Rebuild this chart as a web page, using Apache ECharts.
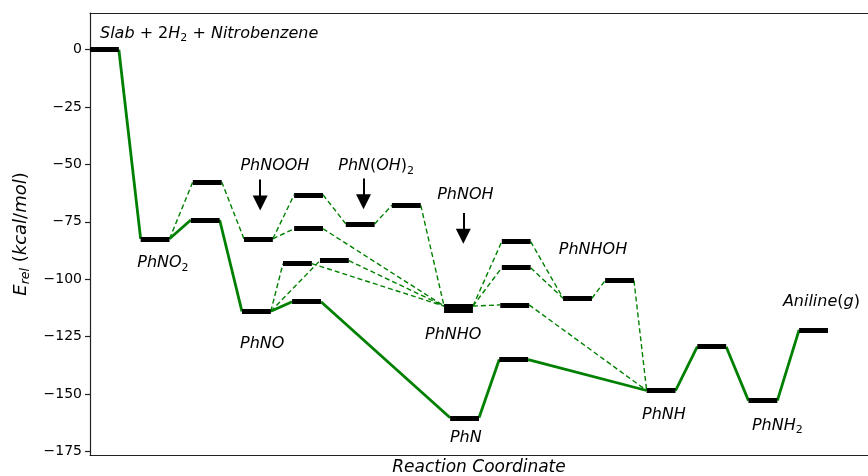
<!DOCTYPE html>
<html>
<head>
<meta charset="utf-8">
<script src="https://cdn.jsdelivr.net/npm/echarts@6/dist/echarts.min.js"></script>
<style>
  html, body { margin: 0; padding: 0; background: #fff; }
  #chart { width: 868px; height: 476px; }
</style>
</head>
<body>
<div id="chart"></div>
<script>
// Energy levels of the nitrobenzene hydrogenation network (kcal/mol, relative to slab + 2H2 + nitrobenzene)
const stateKeys = ['slab', 'PhNO2', 'TS1a', 'TS1b', 'PhNOOH', 'PhNO', 'TS2a', 'TS2b', 'TS2c', 'TS2d', 'TS2e',
  'PhNOH2', 'TS3', 'PhNHO', 'PhNOH', 'TS4a', 'TS4b', 'TS4c', 'PhN', 'TS5', 'PhNHOH', 'TS6', 'PhNH', 'TS7', 'PhNH2', 'Aniline'];
// start of each level along the reaction coordinate
const stateX = [0.00, 1.00, 2.03, 1.99, 3.04, 3.00, 4.03, 4.03, 3.81, 4.54, 3.99,
  5.05, 5.96, 6.99, 6.99, 8.13, 8.13, 8.10, 7.11, 8.08, 9.34, 10.17, 10.99, 11.99, 13.00, 14.00];
const stateE = [0.0, -82.4, -57.6, -74.2, -82.4, -114.0, -63.2, -78.0, -93.2, -91.9, -109.8,
  -75.9, -67.8, -113.7, -111.7, -83.6, -95.0, -111.2, -160.4, -135.0, -108.3, -100.6, -148.5, -129.4, -152.9, -122.1];
const levelWidth = 0.57;

// Most favourable pathway (solid) and alternative pathways (dashed)
const solidPath = [['slab', 'PhNO2'], ['PhNO2', 'TS1b'], ['TS1b', 'PhNO'], ['PhNO', 'TS2e'], ['TS2e', 'PhN'],
  ['PhN', 'TS5'], ['TS5', 'PhNH'], ['PhNH', 'TS7'], ['TS7', 'PhNH2'], ['PhNH2', 'Aniline']];
const dashedPath = [['PhNO2', 'TS1a'], ['TS1a', 'PhNOOH'], ['PhNOOH', 'TS2a'], ['PhNOOH', 'TS2b'], ['TS2a', 'PhNOH2'],
  ['PhNOH2', 'TS3'], ['TS3', 'PhNOH'], ['TS2b', 'PhNOH'], ['PhNO', 'TS2c'], ['PhNO', 'TS2d'], ['TS2c', 'PhNOH'],
  ['TS2d', 'PhNOH'], ['PhNOH', 'TS4a'], ['PhNOH', 'TS4b'], ['PhNOH', 'TS4c'], ['TS4a', 'PhNHOH'], ['TS4b', 'PhNHOH'],
  ['PhNHOH', 'TS6'], ['TS6', 'PhNH'], ['TS4c', 'PhNH']];

// Species labels: text, anchor on the reaction coordinate, anchor energy
const labelTexts = [
  '{it|Slab}{up| + 2}{it|H}{sub|2}{up| + }{it|Nitrobenzene}',
  '{it|PhNO}{sub|2}', '{it|PhNOOH}', '{it|PhN}{up|(}{it|OH}{up|)}{sub|2}', '{it|PhNOH}', '{it|PhNHOH}',
  '{it|Aniline}{up|(}{it|g}{up|)}', '{it|PhNO}', '{it|PhNHO}', '{it|PhN}', '{it|PhNH}', '{it|PhNH}{sub|2}'];
const labelX = [0.197, 1.44, 3.65, 5.65, 7.41, 9.93, 14.44, 3.40, 7.17, 7.42, 11.33, 13.57];
const labelE = [6.9, -93.0, -50.8, -50.8, -63.2, -87.3, -109.9, -128.0, -124.2, -169.0, -159.2, -164.0];

// Pointer arrows: coordinate, tail energy, head energy
const arrowX = [3.36, 5.40, 7.37];
const arrowFrom = [-56.5, -56.1, -71.2];
const arrowTo = [-66.8, -66.3, -81.3];

const yTicks = [0, -25, -50, -75, -100, -125, -150, -175];

const idx = k => stateKeys.indexOf(k);
const link = ([a, b]) => ({
  coords: [[stateX[idx(a)] + levelWidth, stateE[idx(a)]], [stateX[idx(b)], stateE[idx(b)]]]
});

const FONT = 'DejaVu Sans';
const richStyles = {
  it: { fontFamily: FONT, fontStyle: 'italic', fontSize: 16, color: '#000' },
  up: { fontFamily: FONT, fontStyle: 'normal', fontSize: 16, color: '#000' },
  sub: { fontFamily: FONT, fontStyle: 'normal', fontSize: 11, color: '#000', verticalAlign: 'bottom', padding: [9, 0, 0, 0] }
};

const chart = echarts.init(document.getElementById('chart'), null, { renderer: 'canvas' });

chart.setOption({
  animation: false,
  backgroundColor: '#fff',
  grid: { left: 90, right: 0, top: 13, bottom: 21, containLabel: false, outerBoundsMode: 'none' },
  xAxis: [{
    type: 'value', min: 0, max: 15.36, position: 'bottom',
    axisLine: { show: true, onZero: false, lineStyle: { color: '#222', width: 1.2 } },
    axisTick: { show: false }, axisLabel: { show: false }, splitLine: { show: false },
    name: 'Reaction Coordinate', nameLocation: 'middle', nameGap: 4,
    nameTextStyle: { fontFamily: FONT, fontStyle: 'italic', fontSize: 17, color: '#000', verticalAlign: 'top' }
  }, {
    type: 'value', min: 0, max: 15.36, position: 'top',
    axisLine: { show: true, onZero: false, lineStyle: { color: '#222', width: 1.2 } },
    axisTick: { show: false }, axisLabel: { show: false }, splitLine: { show: false }
  }],
  yAxis: {
    type: 'value', min: -176.6, max: 16,
    axisLine: { show: true, onZero: false, lineStyle: { color: '#222', width: 1.2 } },
    axisTick: { show: true, length: 5, customValues: yTicks, lineStyle: { color: '#222', width: 1.2 } },
    axisLabel: {
      customValues: yTicks, margin: 8, fontFamily: FONT, fontSize: 14, color: '#000',
      formatter: v => (v < 0 ? '\u2212' + Math.abs(v) : String(v))
    },
    splitLine: { show: false },
    name: '{it|E}{subit|rel}{up| (}{it|kcal}{up|/}{it|mol}{up|)}',
    nameLocation: 'middle', nameGap: 57, nameRotate: 90,
    nameTextStyle: {
      rich: {
        it: { fontFamily: FONT, fontStyle: 'italic', fontSize: 18, color: '#000' },
        up: { fontFamily: FONT, fontStyle: 'normal', fontSize: 18, color: '#000' },
        subit: { fontFamily: FONT, fontStyle: 'italic', fontSize: 12.5, color: '#000', verticalAlign: 'bottom', padding: [9, 0, 0, 0] }
      }
    }
  },
  series: [
    {
      type: 'lines', coordinateSystem: 'cartesian2d', z: 2, silent: true,
      lineStyle: { color: '#008000', width: 1.4, type: [5, 3], opacity: 1 },
      data: dashedPath.map(link)
    },
    {
      type: 'lines', coordinateSystem: 'cartesian2d', z: 3, silent: true,
      lineStyle: { color: '#008000', width: 2.8, opacity: 1 },
      data: solidPath.map(link)
    },
    {
      type: 'lines', coordinateSystem: 'cartesian2d', z: 4, silent: true,
      lineStyle: { color: '#000', width: 5, opacity: 1, cap: 'butt' },
      data: stateKeys.map((k, i) => ({ coords: [[stateX[i], stateE[i]], [stateX[i] + levelWidth, stateE[i]]] }))
    },
    {
      type: 'lines', coordinateSystem: 'cartesian2d', z: 5, silent: true,
      symbol: ['none', 'triangle'], symbolSize: [10, 15],
      lineStyle: { color: '#000', width: 2, opacity: 1 },
      data: arrowX.map((x, i) => ({ coords: [[x, arrowFrom[i]], [x, arrowTo[i]]] }))
    },
    {
      type: 'scatter', z: 6, silent: true, symbolSize: 0,
      itemStyle: { opacity: 1 },
      data: labelTexts.map((t, i) => ({
        value: [labelX[i], labelE[i]], name: t,
        label: i === 0 ? { position: 'right', distance: 0 } : {}
      })),
      label: {
        show: true, position: 'inside', formatter: p => p.name, rich: richStyles,
        color: '#000', opacity: 1, textBorderWidth: 0
      }
    }
  ]
});
</script>
</body>
</html>
